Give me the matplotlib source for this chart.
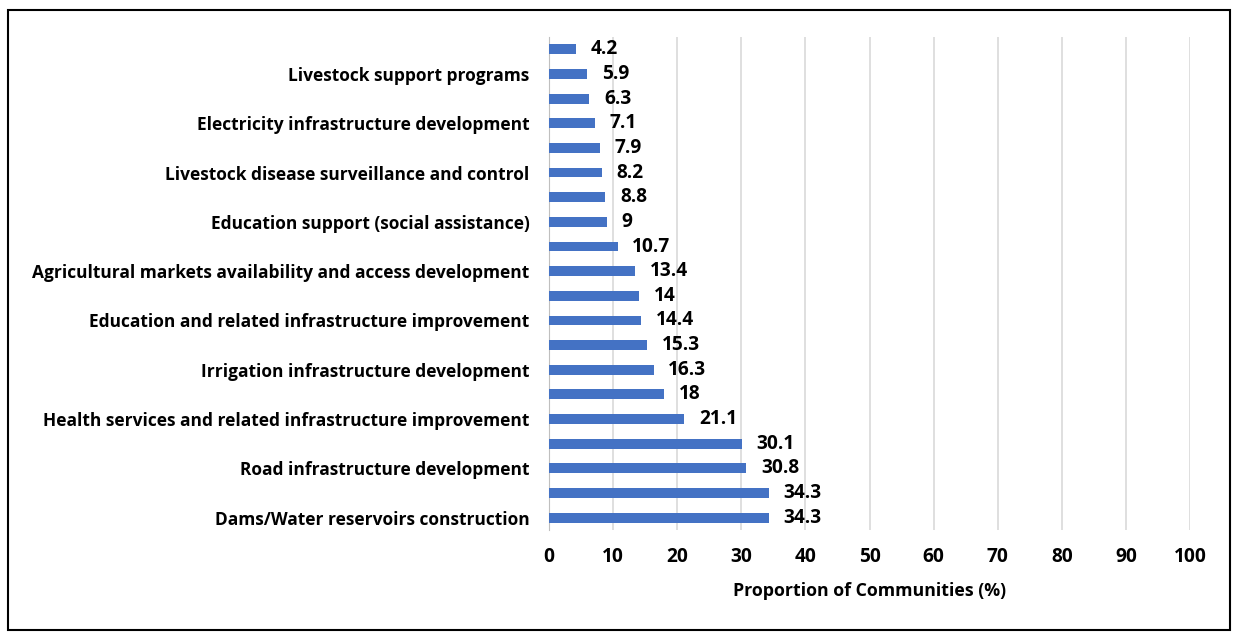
import matplotlib
matplotlib.use("Agg")
from matplotlib import pyplot as plt
from matplotlib.patches import Rectangle

plt.rcParams['font.family'] = ['Open Sans', 'DejaVu Sans']
plt.rcParams['font.weight'] = 'bold'

# bottom to top, as drawn by the bar chart
categories = [
    "Dams/Water reservoirs construction", "",
    "Road infrastructure development", "",
    "Health services and related infrastructure improvement", "",
    "Irrigation infrastructure development", "",
    "Education and related infrastructure improvement", "",
    "Agricultural markets availability and access development", "",
    "Education support (social assistance)", "",
    "Livestock disease surveillance and control", "",
    "Electricity infrastructure development", "",
    "Livestock support programs", "",
]
values = [34.3, 34.3, 30.8, 30.1, 21.1, 18, 16.3, 15.3, 14.4, 14,
          13.4, 10.7, 9, 8.8, 8.2, 7.9, 7.1, 6.3, 5.9, 4.2]
value_labels = ["34.3", "34.3", "30.8", "30.1", "21.1", "18", "16.3", "15.3", "14.4", "14",
                "13.4", "10.7", "9", "8.8", "8.2", "7.9", "7.1", "6.3", "5.9", "4.2"]
xticks = [0, 10, 20, 30, 40, 50, 60, 70, 80, 90, 100]

fs = 12.5
fs_num = 13.8

fig = plt.figure(figsize=(12.38, 6.32), dpi=100)
ax = fig.add_axes([0.4435, 0.1614, 0.5178, 0.7801])

pos = list(range(len(values)))
ax.barh(pos, values, height=0.4, color='#4472C4', zorder=3)
for p, v, lab in zip(pos, values, value_labels):
    ax.text(v + 2.3, p, lab, va='center', ha='left', fontsize=fs_num, fontweight='bold')

ax.set_xlim(0, 100)
ax.set_ylim(-0.5, len(values) - 0.5)
ax.set_xticks(xticks)
ax.set_yticks(pos)
ax.set_yticklabels(categories, fontsize=fs, fontweight='bold')
ax.tick_params(axis='x', labelsize=fs_num, length=0, pad=12)
ax.tick_params(axis='y', length=0, pad=14)
ax.grid(axis='x', color='#D9D9D9', linewidth=1.2, zorder=0)
for s in ['top', 'right', 'bottom']:
    ax.spines[s].set_visible(False)
ax.spines['left'].set_color('#BFBFBF')
ax.set_xlabel('Proportion of Communities (%)', fontsize=12.8, fontweight='bold', labelpad=11)

fig.patches.append(Rectangle((8 / 1238, 2 / 632), 1222 / 1238, 620 / 632, transform=fig.transFigure,
                             fill=False, edgecolor='black', linewidth=1.5))

fig.savefig('out.png', dpi=100)
